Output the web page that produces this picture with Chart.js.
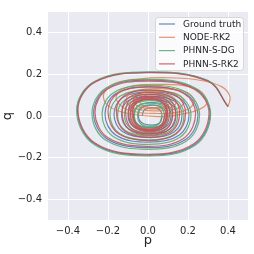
<!DOCTYPE html>
<html>
<head>
<meta charset="utf-8">
<script src="https://cdn.jsdelivr.net/npm/chart.js@4/dist/chart.umd.min.js"></script>
<style>
  html, body { margin: 0; padding: 0; background: #ffffff; }
  canvas { display: block; }
</style>
</head>
<body>
<canvas id="phase" width="254" height="254"></canvas>
<script>
// phase-space trajectories (p, q)
var seriesNames = ['Ground truth', 'NODE-RK2', 'PHNN-S-DG', 'PHNN-S-RK2'];
var tickValues = [-0.4, -0.2, 0.0, 0.2, 0.4];
var tickLabels = ['\u22120.4', '\u22120.2', '0.0', '0.2', '0.4'];

var groundTruth = [
  [0.400, 0.045], [0.300, 0.169], [0.000, 0.210], [-0.265, 0.165], [-0.353, 0.030], [-0.266, -0.134], [-0.005, -0.188], [0.231, -0.138],
  [0.310, 0.012], [0.233, 0.132], [0.000, 0.172], [-0.204, 0.133], [-0.272, 0.015], [-0.204, -0.110], [0.000, -0.152], [0.188, -0.113],
  [0.250, 0.005], [0.189, 0.106], [0.005, 0.140], [-0.160, 0.108], [-0.215, 0.010], [-0.160, -0.092], [0.005, -0.126], [0.155, -0.093],
  [0.205, 0.005], [0.156, 0.088], [0.008, 0.116], [-0.126, 0.089], [-0.170, 0.008], [-0.126, -0.076], [0.008, -0.104], [0.130, -0.077],
  [0.170, 0.005], [0.130, 0.073], [0.010, 0.096], [-0.097, 0.074], [-0.132, 0.006], [-0.096, -0.063], [0.012, -0.086], [0.108, -0.064],
  [0.140, 0.004], [0.109, 0.061], [0.014, 0.080], [-0.072, 0.061], [-0.100, 0.004], [-0.071, -0.052], [0.015, -0.070], [0.090, -0.052],
  [0.115, 0.003], [0.090, 0.050], [0.016, 0.065], [-0.050, 0.049], [-0.072, 0.002], [-0.050, -0.042], [0.018, -0.056], [0.074, -0.042],
  [0.092, 0.002], [0.074, 0.040], [0.020, 0.052], [-0.031, 0.039], [-0.048, 0.001], [-0.031, -0.033], [0.020, -0.044], [0.058, -0.033],
  [0.070, 0.001], [0.058, 0.030], [0.022, 0.040], [-0.017, 0.030], [-0.030, 0.001]
];

var nodeRk2 = [
  [0.400, 0.045], [0.410, 0.092], [0.370, 0.140], [0.260, 0.172], [0.100, 0.184], [-0.050, 0.178], [-0.170, 0.155], [-0.222, 0.105],
  [-0.200, 0.050], [-0.100, 0.012], [0.060, -0.003], [0.200, 0.015], [0.280, 0.045],
  [0.295, 0.078], [0.234, 0.134], [0.050, 0.152], [-0.108, 0.137], [-0.160, 0.090], [-0.108, 0.032], [0.050, 0.012], [0.187, 0.027],
  [0.232, 0.072], [0.185, 0.117], [0.045, 0.132], [-0.071, 0.119], [-0.110, 0.078], [-0.071, 0.038], [0.045, 0.025], [0.146, 0.036],
  [0.180, 0.068], [0.146, 0.106], [0.045, 0.118], [-0.043, 0.107], [-0.072, 0.072], [-0.043, 0.044], [0.045, 0.034], [0.116, 0.042],
  [0.140, 0.066], [0.116, 0.096], [0.045, 0.106], [-0.019, 0.097], [-0.040, 0.068], [-0.019, 0.047], [0.045, 0.040], [0.094, 0.046],
  [0.110, 0.064]
];

var phnnDg = [
  [0.400, 0.045], [0.300, 0.170], [0.000, 0.212], [-0.268, 0.166], [-0.357, 0.028], [-0.269, -0.137], [-0.005, -0.192], [0.234, -0.142],
  [0.313, 0.010], [0.235, 0.135], [0.000, 0.176], [-0.210, 0.135], [-0.280, 0.012], [-0.210, -0.117], [0.000, -0.160], [0.194, -0.119],
  [0.258, 0.005], [0.194, 0.112], [0.003, 0.147], [-0.172, 0.112], [-0.230, 0.008], [-0.172, -0.100], [0.004, -0.136], [0.162, -0.101],
  [0.215, 0.005], [0.163, 0.094], [0.006, 0.124], [-0.141, 0.095], [-0.190, 0.006], [-0.141, -0.085], [0.006, -0.115], [0.137, -0.085],
  [0.180, 0.004], [0.137, 0.079], [0.008, 0.104], [-0.112, 0.079], [-0.152, 0.005], [-0.112, -0.071], [0.008, -0.096], [0.113, -0.071],
  [0.148, 0.004], [0.114, 0.067], [0.010, 0.088], [-0.086, 0.067], [-0.118, 0.004], [-0.086, -0.059], [0.010, -0.080], [0.094, -0.059],
  [0.122, 0.003], [0.094, 0.056], [0.010, 0.074], [-0.065, 0.056], [-0.090, 0.003], [-0.065, -0.049], [0.010, -0.066], [0.078, -0.049],
  [0.100, 0.003], [0.078, 0.047], [0.010, 0.062], [-0.049, 0.047], [-0.068, 0.002], [-0.049, -0.042], [0.010, -0.056], [0.064, -0.042],
  [0.082, 0.002], [0.064, 0.041], [0.010, 0.054], [-0.037, 0.041], [-0.052, 0.002], [-0.037, -0.037], [0.010, -0.050], [0.055, -0.037],
  [0.070, 0.002]
];

var phnnRk2 = [
  [0.400, 0.045], [0.300, 0.167], [0.000, 0.208], [-0.263, 0.164], [-0.350, 0.032], [-0.265, -0.130], [-0.008, -0.184], [0.227, -0.135],
  [0.305, 0.014], [0.229, 0.130], [0.000, 0.168], [-0.199, 0.131], [-0.265, 0.018], [-0.199, -0.105], [0.000, -0.146], [0.179, -0.107],
  [0.238, 0.012], [0.179, 0.108], [0.002, 0.140], [-0.150, 0.110], [-0.200, 0.020], [-0.149, -0.084], [0.004, -0.118], [0.142, -0.085],
  [0.188, 0.014], [0.142, 0.097], [0.005, 0.124], [-0.117, 0.098], [-0.158, 0.020], [-0.117, -0.072], [0.006, -0.102], [0.120, -0.073],
  [0.158, 0.016], [0.120, 0.088], [0.006, 0.112], [-0.096, 0.089], [-0.130, 0.020], [-0.096, -0.064], [0.006, -0.092], [0.105, -0.065],
  [0.138, 0.016], [0.105, 0.082], [0.006, 0.104], [-0.083, 0.083], [-0.112, 0.020], [-0.083, -0.059], [0.006, -0.085], [0.095, -0.060],
  [0.124, 0.016], [0.095, 0.075], [0.006, 0.094], [-0.072, 0.076], [-0.098, 0.020], [-0.072, -0.052], [0.006, -0.076], [0.083, -0.053],
  [0.108, 0.016], [0.083, 0.070], [0.006, 0.088], [-0.065, 0.071], [-0.088, 0.020], [-0.065, -0.048], [0.006, -0.070], [0.075, -0.049],
  [0.098, 0.016], [0.075, 0.066], [0.006, 0.083], [-0.059, 0.067], [-0.080, 0.020], [-0.059, -0.045], [0.006, -0.066], [0.071, -0.046],
  [0.092, 0.016], [0.071, 0.064], [0.006, 0.080], [-0.055, 0.065], [-0.075, 0.020], [-0.055, -0.042], [0.006, -0.062], [0.067, -0.043],
  [0.087, 0.016]
];

var seriesData = [groundTruth, nodeRk2, phnnDg, phnnRk2];
var seriesColors = ['rgba(76, 114, 176, 0.85)', 'rgba(221, 132, 82, 0.85)', 'rgba(85, 168, 104, 0.85)', 'rgba(196, 78, 82, 0.85)'];

var FONT = "'DejaVu Sans', 'Liberation Sans', sans-serif";
var TEXT = '#262626';

function toPoints(arr) {
   return arr.map(function(d) { return { x: d[0], y: d[1] }; });
}

// seaborn-like grey panel behind the grid
var panelBg = {
   id: 'panelBg',
   beforeDraw: function(chart) {
      var a = chart.chartArea, ctx = chart.ctx;
      ctx.save();
      ctx.fillStyle = '#EAEAF2';
      ctx.fillRect(a.left, a.top, a.right - a.left, a.bottom - a.top);
      ctx.restore();
   }
};

// legend box in the upper right corner of the axes
var boxLegend = {
   id: 'boxLegend',
   afterDraw: function(chart) {
      var a = chart.chartArea, ctx = chart.ctx;
      var w = 88, h = 53;
      var x0 = a.right - 5 - w, y0 = a.top + 5;
      ctx.save();
      ctx.beginPath();
      ctx.roundRect(x0 + 0.5, y0 + 0.5, w, h, 3);
      ctx.fillStyle = 'rgba(255, 255, 255, 0.8)';
      ctx.fill();
      ctx.strokeStyle = '#d0d0d0';
      ctx.lineWidth = 0.8;
      ctx.stroke();
      ctx.font = '9px ' + FONT;
      ctx.textBaseline = 'middle';
      ctx.textAlign = 'left';
      for (var i = 0; i < seriesNames.length; i++) {
         var y = y0 + 7 + i * 13.3;
         ctx.beginPath();
         ctx.moveTo(x0 + 4, y);
         ctx.lineTo(x0 + 20, y);
         ctx.strokeStyle = seriesColors[i];
         ctx.lineWidth = 1.2;
         ctx.stroke();
         ctx.fillStyle = TEXT;
         ctx.fillText(seriesNames[i], x0 + 28, y + 0.5);
      }
      ctx.restore();
   }
};

var datasets = seriesNames.map(function(name, i) {
   return {
      label: name,
      data: toPoints(seriesData[i]),
      showLine: true,
      borderColor: seriesColors[i],
      borderWidth: 1.2,
      pointRadius: 0,
      tension: 0.38,
      fill: false,
      order: seriesNames.length - i
   };
});

function axis(title, isY) {
   return {
      type: 'linear',
      min: -0.5,
      max: 0.5,
      afterBuildTicks: function(scale) {
         scale.ticks = tickValues.map(function(v) { return { value: v }; });
      },
      afterFit: function(scale) {
         if (isY) scale.width = 48; else scale.height = 34;
      },
      grid: { color: '#ffffff', lineWidth: 1, drawTicks: false },
      border: { display: false },
      ticks: {
         padding: isY ? 6 : 5,
         color: TEXT,
         font: { family: FONT, size: 10 },
         callback: function(value, index) { return tickLabels[index]; }
      },
      title: {
         display: true,
         text: title,
         color: TEXT,
         font: { family: FONT, size: 13 },
         padding: isY ? { top: 0, bottom: 0 } : { top: 0, bottom: 6 }
      }
   };
}

new Chart(document.getElementById('phase'), {
   type: 'scatter',
   data: { datasets: datasets },
   options: {
      responsive: false,
      animation: false,
      devicePixelRatio: 1,
      layout: { padding: { top: 5, right: 6, left: 0, bottom: 0 } },
      plugins: {
         legend: { display: false },
         tooltip: { enabled: false }
      },
      scales: {
         x: axis('p', false),
         y: axis('q', true)
      }
   },
   plugins: [panelBg, boxLegend]
});
</script>
</body>
</html>
